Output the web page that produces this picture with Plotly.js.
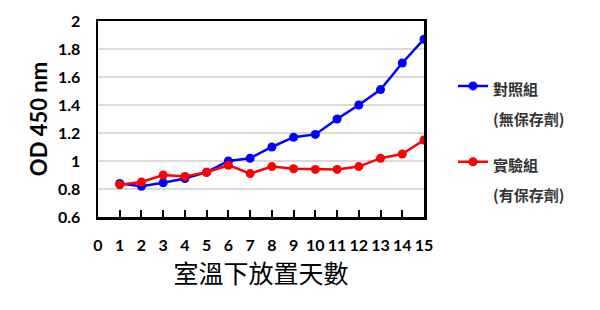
<!DOCTYPE html>
<html>
<head>
<meta charset="utf-8">
<script src="https://cdn.plot.ly/plotly-3.0.1.min.js"></script>
<style>html,body{margin:0;padding:0;background:#fff;}#chart{width:600px;height:310px;}</style>
</head>
<body>
<div id="chart"></div>
<script>
const days = [1,2,3,4,5,6,7,8,9,10,11,12,13,14,15];
const controlValues = [0.84,0.82,0.845,0.875,0.92,1.00,1.02,1.10,1.17,1.19,1.30,1.40,1.51,1.70,1.87];
const treatedValues = [0.83,0.85,0.90,0.89,0.92,0.97,0.91,0.96,0.945,0.94,0.94,0.96,1.02,1.05,1.15];
const xTickLabels = ['0','1','2','3','4','5','6','7','8','9','10','11','12','13','14','15'];
const yTickLabels = ['0.6','0.8','1','1.2','1.4','1.6','1.8','2'];
const seriesNames = ['對照組<br>(無保存劑)', '實驗組<br>(有保存劑)'];

const numFont = 'Lato, "Noto Sans", sans-serif';
const cjkFont = '"Noto Sans CJK TC", "Noto Sans CJK SC", sans-serif';

const traces = [
  {x: days, y: controlValues, name: '<span style="font-size:15px">'+seriesNames[0]+'</span>', legendgroup:'a',
   mode: 'lines+markers', line: {color: '#0000ff', width: 2.5}, marker: {color: '#0000ff', size: 9}},
  {x: days, y: treatedValues, name: '<span style="font-size:15px">'+seriesNames[1]+'</span>', legendgroup:'b',
   mode: 'lines+markers', line: {color: '#ff0000', width: 2.5}, marker: {color: '#ff0000', size: 9}}
];

const layout = {
  width: 600, height: 310,
  margin: {l: 98, r: 176, t: 21, b: 93},
  paper_bgcolor: '#fff', plot_bgcolor: '#fff',
  showlegend: true,
  legend: {x: 0.755, xref: 'container', xanchor: 'left', y: 0.792, yref: 'container', yanchor: 'top',
           font: {family: cjkFont, size: 23, color: '#333', weight: 'bold'}, valign: 'top',
           tracegroupgap: 13, bgcolor: 'rgba(0,0,0,0)'},
  xaxis: {range: [0, 15], tickvals: xTickLabels.map(Number), ticktext: xTickLabels,
          ticks: 'inside', ticklen: 7, tickwidth: 2, tickcolor: '#000',
          showgrid: false, zeroline: false, showline: true, mirror: true, linecolor: '#000', linewidth: 2.5,
          ticklabelstandoff: 12,
          tickfont: {family: numFont, size: 16, color: '#000', weight: 'bold'},
          title: {text: '室溫下放置天數', font: {family: cjkFont, size: 25, color: '#000'}, standoff: 10}},
  yaxis: {range: [0.6, 2], tickvals: yTickLabels.map(Number), ticktext: yTickLabels,
          ticks: '', showgrid: true, gridcolor: '#d9d9d9', gridwidth: 2, zeroline: false,
          showline: true, mirror: true, linecolor: '#000', linewidth: 2.5,
          ticklabelstandoff: 12,
          tickfont: {family: numFont, size: 16, color: '#000', weight: 'bold'},
          title: {text: 'OD 450 nm', font: {family: numFont, size: 22, color: '#000', weight: 'bold'}, standoff: 4}}
};

Plotly.newPlot('chart', traces, layout, {displayModeBar: false, staticPlot: true});
</script>
</body>
</html>
